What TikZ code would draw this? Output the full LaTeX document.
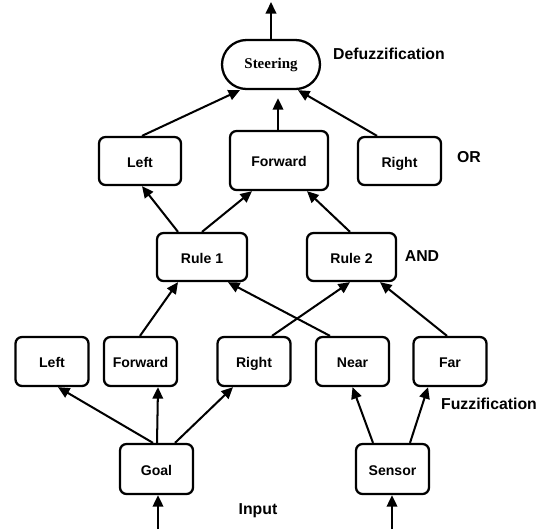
\documentclass[tikz,border=0pt]{standalone}
\usepackage{fontspec}
\setmainfont{Liberation Sans}
\newfontfamily\steerfont{Liberation Serif}
\usetikzlibrary{arrows.meta,calc,shapes.misc}

\tikzset{
  box/.style={draw,rounded corners=0.13cm,line width=1.3pt,minimum width=1.46cm,minimum height=0.98cm,inner sep=0pt,text height=1.6ex,text depth=0.3ex,font=\fontsize{8}{9}\selectfont\bfseries},
  lbl/.style={font=\fontsize{9}{10}\selectfont\bfseries,inner sep=0pt},
  link/.style={line width=1.15pt,-{Triangle[length=2.3mm,width=2.1mm]}}
}

\begin{document}
\begin{tikzpicture}[x=0.02cm,y=-0.02cm]
\useasboundingbox (0,0) rectangle (543,529);


\node[draw,rounded rectangle,line width=1.3pt,minimum width=1.96cm,minimum height=0.98cm,inner sep=0pt,font=\steerfont\fontsize{8.5}{9}\selectfont\bfseries] (steer) at (271,64.5) {Steering};

\node[box,minimum width=1.64cm,minimum height=0.96cm] (oLeft) at (140,161) {Left};
\node[box,minimum width=1.96cm,minimum height=1.18cm] (oFwd) at (279,160.5) {Forward};
\node[box,minimum width=1.66cm,minimum height=0.96cm] (oRight) at (399.5,161) {Right};

\node[box,minimum width=1.8cm,minimum height=0.96cm] (rule1) at (202,257) {Rule 1};
\node[box,minimum width=1.78cm,minimum height=0.96cm] (rule2) at (351.5,257) {Rule 2};

\node[box] (fLeft) at (52,361.5) {Left};
\node[box] (fFwd) at (140.5,361.5) {Forward};
\node[box] (fRight) at (254,361.5) {Right};
\node[box] (fNear) at (352.5,361.5) {Near};
\node[box] (fFar) at (450,361.5) {Far};

\node[box,minimum height=1cm] (goal) at (156.5,469) {Goal};
\node[box,minimum height=1cm] (sensor) at (392.5,469) {Sensor};


\node[lbl] (defuzz) at (389,54) {Defuzzification};
\node[lbl] (orop) at (469,157) {OR};
\node[lbl] (andop) at (422,256) {AND};
\node[lbl] (fuzz) at (489,404) {Fuzzification};
\node[lbl] (input) at (258,511) {Input};


\coordinate (out) at (271,2);
\coordinate (inGoal) at (158,529);
\coordinate (inSensor) at (392,529);

\draw[link] (steer.north) -- (out);
\draw[link] (inGoal) -- (inGoal |- goal.south);
\draw[link] (inSensor) -- (inSensor |- sensor.south);


\draw[link] ($(goal.north)+(-3.5,0)$) -- ($(fLeft.south)+(6,0)$);
\draw[link] ($(goal.north)+(0.5,0)$) -- ($(fFwd.south)+(17.5,0)$);
\draw[link] ($(goal.north)+(18.5,0)$) -- ($(fRight.south)+(-21,0)$);
\draw[link] ($(sensor.north)+(-19.5,0)$) -- (fNear.south);
\draw[link] ($(sensor.north)+(17.5,0)$) -- ($(fFar.south)+(-22,0)$);


\draw[link] ($(fFwd.north)+(-0.5,0)$) -- ($(rule1.south)+(-24,0)$);
\draw[link] ($(fNear.north)+(-22.5,0)$) -- ($(rule1.south)+(26,0)$);
\draw[link] ($(fRight.north)+(18,0)$) -- ($(rule2.south)+(-1.5,0)$);
\draw[link] ($(fFar.north)+(-3,0)$) -- ($(rule2.south)+(28.5,0)$);


\draw[link] ($(rule1.north)+(-24,0)$) -- ($(oLeft.south)+(2,0)$);
\draw[link] (rule1.north) -- ($(oFwd.south)+(-27,0)$);
\draw[link] ($(rule2.north)+(-1.5,0)$) -- ($(oFwd.south)+(28,0)$);


\draw[link] ($(oLeft.north)+(2,0)$) -- ($(steer.south)+(-31,0)$);
\draw[link] ($(oFwd.north)+(-1,0)$) -- ($(steer.south)+(7,8)$);
\draw[link] ($(oRight.north)+(-22.5,0)$) -- ($(steer.south)+(27,0)$);

\end{tikzpicture}
\end{document}
